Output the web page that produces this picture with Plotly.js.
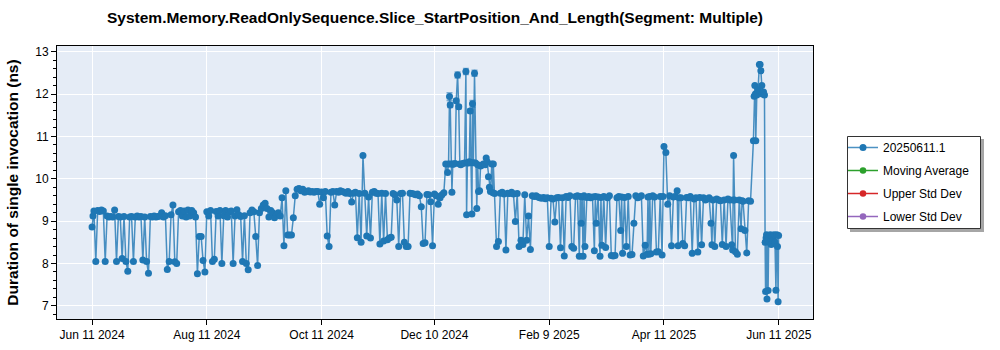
<!DOCTYPE html>
<html><head><meta charset="utf-8">
<script src="https://cdn.plot.ly/plotly-3.0.1.min.js"></script>
<style>html,body{margin:0;padding:0;background:#fff}#chart{width:1000px;height:350px}</style>
</head><body><div id="chart"></div>
<script>
const chartTitle = 'System.Memory.ReadOnlySequence.Slice_StartPosition_And_Length(Segment: Multiple)';
const yTitle = 'Duration of single invocation (ns)';
const seriesNames = ['20250611.1', 'Moving Average', 'Upper Std Dev', 'Lower Std Dev'];
const seriesColors = ['#1f77b4', '#2ca02c', '#d62728', '#9467bd'];
const tickDates = ['2024-06-11', '2024-08-11', '2024-10-11', '2024-12-10', '2025-02-09', '2025-04-11', '2025-06-11'];
const tickLabels = ['Jun 11 2024', 'Aug 11 2024', 'Oct 11 2024', 'Dec 10 2024', 'Feb 9 2025', 'Apr 11 2025', 'Jun 11 2025'];

const dates = [
  // Jun 2024
  '2024-06-11','2024-06-11 12:00','2024-06-12','2024-06-13','2024-06-14','2024-06-15','2024-06-16','2024-06-17','2024-06-18','2024-06-19','2024-06-20',
  '2024-06-21','2024-06-22','2024-06-23','2024-06-24','2024-06-25','2024-06-26','2024-06-27','2024-06-28','2024-06-29','2024-06-30',
  // Jul 2024
  '2024-07-01','2024-07-02','2024-07-03','2024-07-04','2024-07-05','2024-07-06','2024-07-07','2024-07-08','2024-07-09','2024-07-10',
  '2024-07-11','2024-07-12','2024-07-13','2024-07-14','2024-07-15','2024-07-16','2024-07-17','2024-07-18','2024-07-19','2024-07-20',
  '2024-07-21','2024-07-22','2024-07-23','2024-07-24','2024-07-25','2024-07-26','2024-07-27','2024-07-28','2024-07-29','2024-07-30','2024-07-31',
  // Aug 2024
  '2024-08-01','2024-08-02','2024-08-03','2024-08-04','2024-08-05','2024-08-06','2024-08-07','2024-08-08','2024-08-09','2024-08-10',
  '2024-08-11','2024-08-12','2024-08-13','2024-08-14','2024-08-15','2024-08-16','2024-08-17','2024-08-18','2024-08-19','2024-08-20',
  '2024-08-21','2024-08-22','2024-08-23','2024-08-24','2024-08-25','2024-08-26','2024-08-27','2024-08-28','2024-08-29','2024-08-30','2024-08-31',
  // Sep 2024
  '2024-09-01','2024-09-02','2024-09-03','2024-09-04','2024-09-05','2024-09-06','2024-09-07','2024-09-08','2024-09-09','2024-09-10',
  '2024-09-11','2024-09-12','2024-09-13','2024-09-14','2024-09-15','2024-09-16','2024-09-17','2024-09-18','2024-09-19','2024-09-20',
  '2024-09-21','2024-09-22','2024-09-23','2024-09-24','2024-09-25','2024-09-26','2024-09-27','2024-09-28','2024-09-29','2024-09-30',
  // Oct 2024
  '2024-10-01','2024-10-02','2024-10-03','2024-10-04','2024-10-05','2024-10-06','2024-10-07','2024-10-08','2024-10-09','2024-10-10',
  '2024-10-11','2024-10-12','2024-10-13','2024-10-14','2024-10-15','2024-10-16','2024-10-17','2024-10-18','2024-10-19','2024-10-20',
  '2024-10-21','2024-10-22','2024-10-23','2024-10-24','2024-10-25','2024-10-26','2024-10-27','2024-10-28','2024-10-29','2024-10-30','2024-10-31',
  // Nov 2024
  '2024-11-01','2024-11-02','2024-11-03','2024-11-04','2024-11-05','2024-11-06','2024-11-07','2024-11-08','2024-11-09','2024-11-10',
  '2024-11-11','2024-11-12','2024-11-13','2024-11-14','2024-11-15','2024-11-16','2024-11-17','2024-11-18','2024-11-19','2024-11-20',
  '2024-11-21','2024-11-22','2024-11-23','2024-11-24','2024-11-25','2024-11-26','2024-11-27','2024-11-28','2024-11-29','2024-11-30',
  // Dec 2024
  '2024-12-01','2024-12-02','2024-12-03','2024-12-04','2024-12-05','2024-12-06','2024-12-07','2024-12-08','2024-12-09','2024-12-10',
  '2024-12-11','2024-12-12','2024-12-13','2024-12-14','2024-12-15',
  '2024-12-16','2024-12-17','2024-12-17 12:00','2024-12-18','2024-12-18 09:00','2024-12-18 18:00','2024-12-19 07:00','2024-12-19 18:00','2024-12-20','2024-12-21',
  '2024-12-21 14:00','2024-12-22 07:00','2024-12-22 22:00','2024-12-23 12:00','2024-12-24','2024-12-25','2024-12-26','2024-12-26 17:00','2024-12-27 02:00','2024-12-27 12:00',
  '2024-12-28','2024-12-28 12:00','2024-12-29','2024-12-29 10:00','2024-12-29 22:00','2024-12-30 05:00','2024-12-30 16:00','2024-12-31 07:00','2024-12-31 20:00',
  // Jan 2025
  '2025-01-01 12:00','2025-01-02','2025-01-02 10:00','2025-01-03','2025-01-03 12:00','2025-01-04','2025-01-05','2025-01-06','2025-01-06 12:00','2025-01-07',
  '2025-01-07 17:00','2025-01-08 05:00','2025-01-08 18:00','2025-01-09 12:00','2025-01-10 02:00','2025-01-10 07:00',
  '2025-01-11','2025-01-12','2025-01-13','2025-01-14','2025-01-15','2025-01-16','2025-01-17','2025-01-18','2025-01-19','2025-01-20',
  '2025-01-21','2025-01-22','2025-01-23','2025-01-24','2025-01-25','2025-01-26','2025-01-27','2025-01-28','2025-01-29','2025-01-30','2025-01-31',
  // Feb 2025
  '2025-02-01','2025-02-02','2025-02-03','2025-02-04','2025-02-05','2025-02-06','2025-02-07','2025-02-08','2025-02-09','2025-02-10',
  '2025-02-11','2025-02-12','2025-02-13','2025-02-14','2025-02-15','2025-02-16','2025-02-17','2025-02-18','2025-02-19','2025-02-20',
  '2025-02-21','2025-02-22','2025-02-23','2025-02-24','2025-02-25','2025-02-25 12:00','2025-02-26','2025-02-26 12:00','2025-02-27','2025-02-27 12:00','2025-02-28',
  // Mar 2025
  '2025-03-01','2025-03-02','2025-03-03','2025-03-04','2025-03-05','2025-03-05 12:00','2025-03-06','2025-03-07','2025-03-08','2025-03-08 12:00',
  '2025-03-09','2025-03-10','2025-03-11','2025-03-12','2025-03-13','2025-03-14','2025-03-15','2025-03-16','2025-03-17','2025-03-18',
  '2025-03-19','2025-03-19 12:00','2025-03-20','2025-03-21','2025-03-22','2025-03-23','2025-03-24','2025-03-25','2025-03-26','2025-03-27',
  '2025-03-28','2025-03-29','2025-03-30','2025-03-31',
  // Apr 2025
  '2025-04-01','2025-04-02','2025-04-02 12:00','2025-04-03','2025-04-03 12:00','2025-04-04','2025-04-05','2025-04-06','2025-04-07','2025-04-08',
  '2025-04-09','2025-04-10','2025-04-10 12:00','2025-04-11','2025-04-12','2025-04-13','2025-04-14','2025-04-15','2025-04-16','2025-04-17',
  '2025-04-18','2025-04-18 12:00','2025-04-19','2025-04-20','2025-04-21','2025-04-22','2025-04-23','2025-04-24','2025-04-25','2025-04-26',
  '2025-04-27','2025-04-28','2025-04-29','2025-04-30',
  // May 2025
  '2025-05-01','2025-05-02','2025-05-03','2025-05-04','2025-05-05','2025-05-06','2025-05-06 12:00','2025-05-07','2025-05-08','2025-05-09',
  '2025-05-10','2025-05-11','2025-05-12','2025-05-13','2025-05-14','2025-05-15','2025-05-16','2025-05-17','2025-05-17 12:00','2025-05-17 18:00',
  '2025-05-18','2025-05-18 12:00','2025-05-19','2025-05-20','2025-05-21','2025-05-22','2025-05-22 12:00','2025-05-23','2025-05-24','2025-05-25',
  '2025-05-26','2025-05-27',
  '2025-05-28 13:00','2025-05-28 22:00','2025-05-29 07:00','2025-05-29 14:00','2025-05-29 19:00','2025-05-30 08:00','2025-05-31','2025-05-31 17:00',
  // Jun 2025
  '2025-06-01 02:00','2025-06-01 12:00','2025-06-02','2025-06-02 07:00','2025-06-02 22:00','2025-06-03 10:00','2025-06-03 18:00','2025-06-04','2025-06-04 06:00','2025-06-04 12:00',
  '2025-06-04 18:00','2025-06-05','2025-06-05 08:00','2025-06-05 16:00','2025-06-06','2025-06-06 12:00','2025-06-07','2025-06-07 12:00','2025-06-08','2025-06-08 12:00',
  '2025-06-09','2025-06-09 12:00','2025-06-10','2025-06-10 08:00','2025-06-10 16:00','2025-06-10 22:00'
];

const durations = [
  // Jun 2024
  8.86,9.12,9.24,8.05,9.25,9.23,9.26,9.24,8.05,9.12,9.1,
  9.11,9.1,9.26,8.05,9.11,9.1,8.12,9.11,8.05,7.82,
  // Jul 2024
  9.1,9.11,8.05,9.1,9.12,9.1,9.11,8.08,9.1,8.05,
  7.77,9.11,9.1,9.12,9.1,9.11,9.12,9.2,9.1,9.13,
  7.86,8.05,9.15,9.38,8.04,8.0,9.22,9.25,9.12,9.24,9.1,
  // Aug 2024
  9.26,9.12,9.25,9.2,9.1,7.76,8.64,8.64,8.07,7.8,
  9.22,9.12,9.25,8.05,8.1,9.23,9.12,9.25,8.0,9.13,
  9.25,9.1,9.22,9.24,8.0,9.12,9.27,9.15,9.11,8.05,9.13,
  // Sep 2024
  8.0,7.85,9.2,9.26,9.22,8.64,7.95,9.2,9.3,9.38,
  9.42,9.3,9.1,9.25,9.2,9.08,9.15,9.2,9.12,9.55,
  8.42,9.72,8.67,8.67,8.67,9.08,9.6,9.75,9.77,9.72,
  // Oct 2024
  9.75,9.68,9.7,9.72,9.69,9.7,9.68,9.7,9.7,9.4,
  9.69,9.55,9.7,8.65,8.4,9.68,9.7,9.38,9.7,9.68,
  9.72,9.7,9.68,9.66,9.7,9.65,9.45,9.66,9.68,8.61,9.65,
  // Nov 2024
  8.5,10.55,9.66,8.65,9.57,8.6,9.68,9.7,9.66,9.65,
  8.46,9.66,8.53,9.65,8.56,8.6,8.62,9.65,9.62,9.5,
  8.4,9.65,9.66,8.5,8.4,8.4,9.66,9.65,9.64,9.62,
  // Dec 2024
  9.64,9.6,9.34,8.47,8.49,9.63,9.62,9.46,8.42,9.64,
  9.6,9.4,9.55,9.62,9.67,
  10.35,10.15,10.35,11.94,11.74,10.35,9.68,10.35,10.34,10.36,
  11.84,12.45,11.7,10.35,10.33,10.36,10.37,12.53,9.15,10.38,
  10.37,10.4,11.6,10.38,9.17,11.77,10.38,12.49,10.37,
  // Jan 2025
  9.3,10.33,9.7,9.72,10.3,10.32,10.35,10.33,10.49,10.4,
  10.05,9.8,9.7,10.35,9.67,10.35,
  9.65,8.4,8.52,9.66,9.68,9.64,8.32,9.66,9.65,9.68,
  9.64,8.99,9.65,8.4,8.55,8.45,9.62,8.55,9.12,8.33,9.6,
  // Feb 2025
  9.58,9.6,9.57,9.55,9.54,9.56,9.53,9.55,8.4,9.54,
  9.52,8.98,9.55,9.56,8.37,9.55,8.18,9.58,9.56,9.6,
  8.4,8.36,9.58,9.6,8.17,9.58,8.95,9.57,8.17,9.6,8.4,
  // Mar 2025
  9.56,9.58,9.55,9.57,8.3,9.58,8.95,9.57,8.17,9.56,
  8.43,9.58,8.38,9.55,9.6,8.19,8.18,8.19,9.55,9.58,
  8.78,9.57,8.24,9.56,8.4,9.58,8.2,8.21,8.95,9.6,
  9.55,9.57,9.6,8.18,
  // Apr 2025
  8.43,8.22,9.57,8.22,9.58,8.23,9.6,9.57,8.27,8.28,
  9.58,8.2,9.58,10.76,10.62,9.4,9.6,8.42,9.57,9.58,
  9.72,8.42,9.55,9.55,8.47,8.42,9.56,9.55,9.58,8.24,
  9.52,9.55,8.27,9.56,
  // May 2025
  8.44,9.55,9.5,9.52,9.55,8.95,8.44,9.5,8.4,9.52,
  9.5,9.48,8.45,9.5,8.4,9.52,9.5,8.44,8.32,9.5,
  10.55,9.5,8.28,8.22,9.5,8.82,9.48,9.47,8.78,8.25,
  9.48,9.47,
  10.9,11.95,12.2,12.0,10.9,11.98,12.1,12.7,
  // Jun 2025
  12.7,12.55,12.2,12.0,12.05,11.98,8.5,7.34,8.6,8.68,
  7.16,8.55,7.36,8.62,8.5,8.68,8.45,8.65,8.55,8.68,
  8.5,7.37,8.68,8.4,7.1,8.66
];

// points whose error bars are visible in the picture
const errDates = ['2024-12-18','2024-12-18 09:00','2024-12-21 14:00','2024-12-22 07:00','2024-12-22 22:00','2024-12-26 17:00','2024-12-29','2024-12-30 05:00','2024-12-31 07:00'];
const errValues = [11.94, 11.74, 11.84, 12.45, 11.7, 12.53, 11.6, 11.77, 12.49];
const errSizes = [0.09, 0.06, 0.05, 0.07, 0.05, 0.07, 0.05, 0.08, 0.07];

const FONT = '"Liberation Sans", Arial, sans-serif';

const traces = [
  {
    x: dates, y: durations, type: 'scatter', mode: 'lines+markers', name: seriesNames[0],
    legendgroup: 'g0',
    line: {color: 'rgba(31,119,180,0.8)', width: 1.5},
    marker: {color: seriesColors[0], size: 7}
  },
  {
    x: errDates, y: errValues, type: 'scatter', mode: 'markers', showlegend: false, hoverinfo: 'skip',
    marker: {color: 'rgba(0,0,0,0)', size: 1},
    error_y: {type: 'data', array: errSizes, visible: true, color: 'rgba(31,119,180,0.55)', thickness: 1.5, width: 3}
  }
];
// series listed in the legend but with no data drawn
for (let k = 1; k < seriesNames.length; k++) {
  traces.push({
    x: [null], y: [null], type: 'scatter', mode: 'lines+markers', name: seriesNames[k],
    legendgroup: 'g' + k,
    line: {color: seriesColors[k], width: 1.5},
    marker: {color: seriesColors[k], size: 6.5}
  });
}

const L = 57, R = 187, T = 46, B = 31, W = 1000, H = 350;
const pw = W - L - R, ph = H - T - B;
function px2x(p) { return (p - L) / pw; }
function px2y(p) { return (H - B - p) / ph; }

const layout = {
  width: W, height: H,
  margin: {l: L, r: R, t: T, b: B},
  paper_bgcolor: '#ffffff',
  plot_bgcolor: '#E5ECF6',
  font: {family: FONT, size: 12, color: '#000'},
  title: {
    text: '<b>' + chartTitle + '</b>',
    font: {family: FONT, size: 15.5, color: '#000'},
    x: 0.5, xref: 'paper', xanchor: 'center',
    y: 1 - 18 / H, yref: 'container', yanchor: 'middle'
  },
  showlegend: true,
  legend: {
    x: px2x(843), y: px2y(133), xanchor: 'left', yanchor: 'top',
    bgcolor: 'rgba(0,0,0,0)', borderwidth: 0,
    font: {family: FONT, size: 12, color: '#000'},
    tracegroupgap: 4
  },
  xaxis: {
    type: 'date',
    range: ['2024-05-23 09:00', '2025-06-29 05:00'],
    tickmode: 'array', tickvals: tickDates, ticktext: tickLabels,
    showgrid: true, gridcolor: '#ffffff', gridwidth: 1,
    showline: true, linecolor: '#000', linewidth: 1, mirror: true,
    ticks: 'outside', ticklen: 5, tickcolor: '#000',
    tickfont: {family: FONT, size: 12, color: '#000'},
    zeroline: false
  },
  yaxis: {
    range: [6.69, 13.134],
    tick0: 7, dtick: 1,
    showgrid: true, gridcolor: '#ffffff', gridwidth: 1,
    showline: true, linecolor: '#000', linewidth: 1, mirror: true,
    ticks: 'outside', ticklen: 5, tickcolor: '#000',
    minor: {dtick: 0.2, tick0: 7, ticks: 'outside', ticklen: 3, tickcolor: '#000', showgrid: false},
    tickfont: {family: FONT, size: 12, color: '#000'},
    zeroline: false,
    title: {text: '<b>' + yTitle + '</b>', font: {family: FONT, size: 15.5, color: '#000'}, standoff: 12}
  },
  shapes: [
    {
      type: 'rect', xref: 'paper', yref: 'paper', layer: 'above',
      x0: px2x(850), x1: px2x(984), y0: px2y(139), y1: px2y(232),
      fillcolor: 'rgba(0,0,0,0.35)', line: {width: 0}
    },
    {
      type: 'rect', xref: 'paper', yref: 'paper', layer: 'above',
      x0: px2x(847.5), x1: px2x(980.5), y0: px2y(136.5), y1: px2y(228.5),
      fillcolor: '#ffffff', line: {color: '#333333', width: 1}
    }
  ]
};

Plotly.newPlot('chart', traces, layout, {displayModeBar: false, staticPlot: true});
</script>
</body></html>
